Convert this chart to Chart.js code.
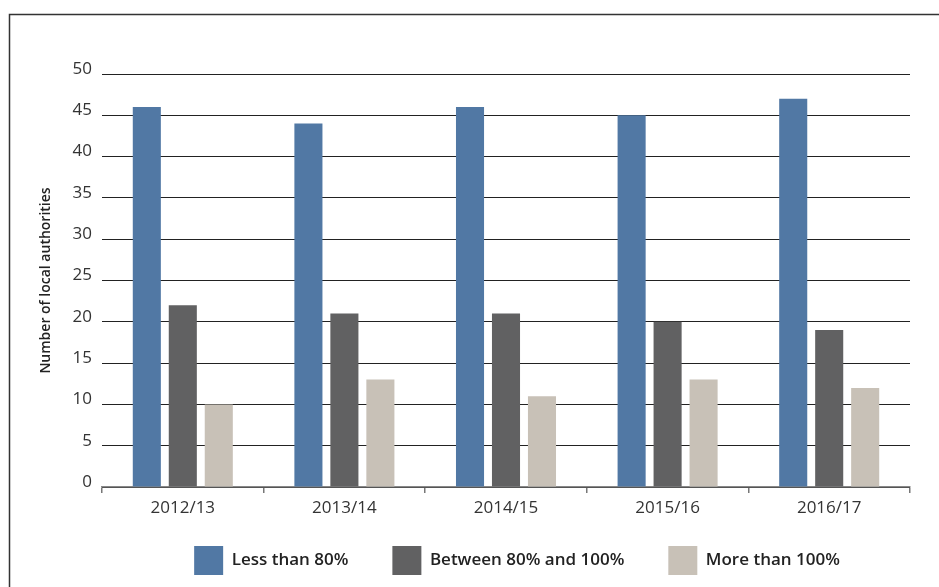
<!DOCTYPE html>
<html><head><meta charset="utf-8">
<script src="https://cdn.jsdelivr.net/npm/chart.js@4"></script>
<style>html,body{margin:0;padding:0;background:#fff}#wrap{width:939px;height:587px;position:relative}</style>
</head><body><div id="wrap"><canvas id="c" width="939" height="587"></canvas></div>
<script>
const categories = ["2012/13","2013/14","2014/15","2015/16","2016/17"];
const lessThan80 = [46,44,46,45,47];
const between80and100 = [22,21,21,20,19];
const moreThan100 = [10,13,11,13,12];
const seriesNames = ["Less than 80%","Between 80% and 100%","More than 100%"];
const yTicks = [0,5,10,15,20,25,30,35,40,45,50];

const FONT = "'Open Sans', 'Noto Sans', sans-serif";
const framePlugin = {
  id:'frame',
  afterLayout(chart){
    const lg = chart.legend;
    if (lg) {
      lg.left += 62; lg.right += 62;
      const h = lg.height;
      lg.top = chart.chartArea.bottom + 15;
      lg.bottom = lg.top + h;
    }
  },
  beforeDraw(chart){
    const ctx = chart.ctx;
    ctx.save();
    ctx.strokeStyle = '#333';
    ctx.lineWidth = 1.5;
    ctx.beginPath();
    ctx.moveTo(9.5, 587);
    ctx.lineTo(9.5, 14.5);
    ctx.lineTo(939, 14.5);
    ctx.stroke();
    ctx.restore();
  }
};
new Chart(document.getElementById('c'), {
  type:'bar',
  data:{
    labels:categories,
    datasets:[
      {label:seriesNames[0], data:lessThan80, backgroundColor:'#5178a4'},
      {label:seriesNames[1], data:between80and100, backgroundColor:'#616162'},
      {label:seriesNames[2], data:moreThan100, backgroundColor:'#c8c1b7'}
    ]
  },
  options:{
    responsive:false,
    animation:false,
    devicePixelRatio:1,
    layout:{padding:{left:0,right:29,top:74,bottom:-15}},
    datasets:{bar:{categoryPercentage:0.668,barPercentage:0.78}},
    plugins:{
      tooltip:{enabled:false},
      legend:{
        position:'bottom',
        labels:{
          boxWidth:29, boxHeight:29, padding:44,
          color:'#222',
          font:{family:FONT,size:17,weight:'600'}
        }
      }
    },
    scales:{
      x:{
        afterFit(s){ s.height = 32; },
        grid:{offset:true,drawOnChartArea:false,drawTicks:true,tickLength:6,color:'#777',lineWidth:1.5},
        border:{display:true,color:'#888',width:1.5},
        ticks:{color:'#333',font:{family:FONT,size:17},padding:5}
      },
      y:{
        min:0,max:50,
        afterBuildTicks(s){ s.ticks = yTicks.map(v=>({value:v})); },
        afterFit(s){ s.width = 102; },
        grid:{drawTicks:false,color:'#222',lineWidth:1},
        border:{display:false},
        ticks:{color:'#333',font:{family:FONT,size:17},padding:10,labelOffset:-5},
        title:{display:true,text:'Number of local authorities',color:'#222',font:{family:FONT,size:14,weight:'600'},padding:{top:38,bottom:0}}
      }
    }
  },
  plugins:[framePlugin]
});
</script></body></html>
